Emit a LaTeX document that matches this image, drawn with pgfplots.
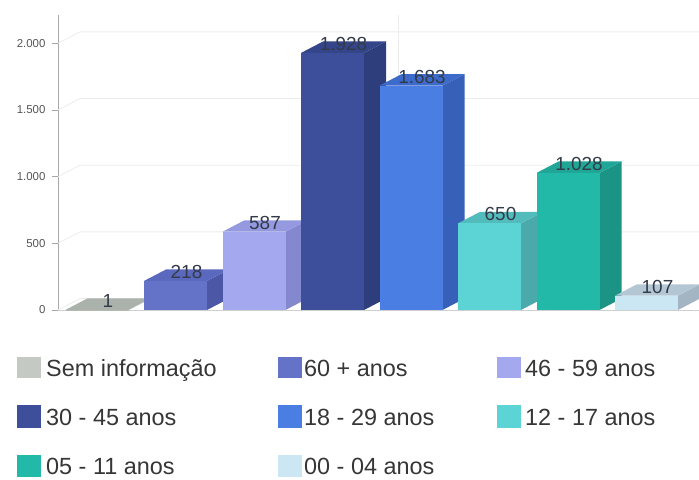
\documentclass[border=0pt]{standalone}
\usepackage{fontspec}
\setmainfont{Liberation Sans}
\usepackage{pgfplots}
\pgfplotsset{compat=1.18}

\definecolor{c1f}{HTML}{B3BAB3}\definecolor{c1t}{HTML}{ABB2AB}\definecolor{c1s}{HTML}{9AA29A}\definecolor{c1l}{HTML}{C4C9C4}
\definecolor{c2f}{HTML}{6472C8}\definecolor{c2t}{HTML}{5A68BD}\definecolor{c2s}{HTML}{4C58A5}
\definecolor{c3f}{HTML}{A4A9EF}\definecolor{c3t}{HTML}{9499E0}\definecolor{c3s}{HTML}{8489CF}
\definecolor{c4f}{HTML}{3D4F9B}\definecolor{c4t}{HTML}{34458A}\definecolor{c4s}{HTML}{2E3D7C}
\definecolor{c5f}{HTML}{4A7EE3}\definecolor{c5t}{HTML}{3D6BCC}\definecolor{c5s}{HTML}{3760B8}
\definecolor{c6f}{HTML}{5CD3D4}\definecolor{c6t}{HTML}{52BCBD}\definecolor{c6s}{HTML}{4AAAAB}
\definecolor{c7f}{HTML}{22B9A9}\definecolor{c7t}{HTML}{1FA696}\definecolor{c7s}{HTML}{1B9486}
\definecolor{c8f}{HTML}{CBE7F3}\definecolor{c8t}{HTML}{B3C6D4}\definecolor{c8s}{HTML}{A3B5C3}
\definecolor{gridc}{HTML}{ECECEC}
\definecolor{axisgray}{HTML}{A8A8A8}
\definecolor{floorgray}{HTML}{CFCFCF}
\definecolor{tickgray}{HTML}{555555}
\definecolor{labtext}{HTML}{333A48}
\definecolor{legtext}{HTML}{363636}

% half bar width, depth offsets (x in category units, y in value units)
\def\hw{0.40127}
\def\dx{0.28025}
\def\dy{86}

\newcommand{\tdbar}[5]{%
  \pgfmathsetmacro\xl{#1-\hw}%
  \pgfmathsetmacro\xr{#1+\hw}%
  \pgfmathsetmacro\xlb{#1-\hw+\dx}%
  \pgfmathsetmacro\xrb{#1+\hw+\dx}%
  \pgfmathsetmacro\vt{#2+\dy}%
  \edef\temp{%
    \noexpand\addplot[fill=#5, draw=none] coordinates {(\xr,0) (\xrb,\dy) (\xrb,\vt) (\xr,#2)} -- cycle;
    \noexpand\addplot[fill=#4, draw=none] coordinates {(\xl,#2) (\xr,#2) (\xrb,\vt) (\xlb,\vt)} -- cycle;
    \noexpand\addplot[fill=#3, draw=none] coordinates {(\xl,0) (\xr,0) (\xr,#2) (\xl,#2)} -- cycle;
  }\temp
}

\begin{document}
\begin{tikzpicture}
\useasboundingbox (0,0) rectangle (699bp,-480bp);
\begin{axis}[
  at={(58bp,-310bp)}, anchor=south west,
  x=78.5bp, y=0.13333bp,
  xmin=-0.49682, xmax=7.6688, ymin=0, ymax=2212.5,
  axis lines*=left,
  xtick=\empty,
  ytick={0,500,1000,1500,2000},
  /pgf/number format/1000 sep={.},
  /pgf/number format/assume math mode=true,
  y axis line style={draw=axisgray, line width=0.8bp},
  x axis line style={draw=floorgray, line width=0.8bp},
  tick align=outside,
  major tick length=6bp,
  ytick style={draw=axisgray, line width=0.6bp},
  yticklabel style={font=\fontsize{11.5}{13}\selectfont, text=tickgray, xshift=-3bp},
]
% back-wall gridlines
\draw[gridc, line width=0.8bp] (axis cs:-0.49682,0) -- (axis cs:-0.21657,86) -- (axis cs:7.6688,86);
\draw[gridc, line width=0.8bp] (axis cs:-0.49682,500) -- (axis cs:-0.21657,586) -- (axis cs:7.6688,586);
\draw[gridc, line width=0.8bp] (axis cs:-0.49682,1000) -- (axis cs:-0.21657,1086) -- (axis cs:7.6688,1086);
\draw[gridc, line width=0.8bp] (axis cs:-0.49682,1500) -- (axis cs:-0.21657,1586) -- (axis cs:7.6688,1586);
\draw[gridc, line width=0.8bp] (axis cs:-0.49682,2000) -- (axis cs:-0.21657,2086) -- (axis cs:7.6688,2086);
\draw[gridc, line width=0.8bp] (axis cs:3.8344,0) -- (axis cs:3.8344,2212.5);

\tdbar{0}{1}{c1f}{c1t}{c1s}
\tdbar{1}{218}{c2f}{c2t}{c2s}
\tdbar{2}{587}{c3f}{c3t}{c3s}
\tdbar{3}{1928}{c4f}{c4t}{c4s}
\tdbar{4}{1683}{c5f}{c5t}{c5s}
\tdbar{5}{650}{c6f}{c6t}{c6s}
\tdbar{6}{1028}{c7f}{c7t}{c7s}
\tdbar{7}{107}{c8f}{c8t}{c8s}

\addplot[draw=none, mark=none, nodes near coords, point meta=explicit symbolic,
  nodes near coords style={anchor=center, xshift=11bp, yshift=9bp, inner sep=0pt,
    font=\fontsize{19}{21}\selectfont, text=labtext}]
  coordinates {(0,1) [1] (1,218) [218] (2,587) [587] (3,1928) [1.928]
               (4,1683) [1.683] (5,650) [650] (6,1028) [1.028] (7,107) [107]};
\end{axis}

% legend
\def\legfont{\fontsize{23.5}{26}\selectfont}
\fill[c1l] (17bp,-357bp) rectangle (41bp,-378bp);
\node[anchor=base west, inner sep=0pt, font=\legfont, text=legtext] at (46bp,-376bp) {Sem informação};
\fill[c2f] (278bp,-357bp) rectangle (302bp,-378bp);
\node[anchor=base west, inner sep=0pt, font=\legfont, text=legtext] at (304bp,-376bp) {60 + anos};
\fill[c3f] (497bp,-357bp) rectangle (521bp,-378bp);
\node[anchor=base west, inner sep=0pt, font=\legfont, text=legtext] at (525bp,-376bp) {46 - 59 anos};

\fill[c4f] (17bp,-405bp) rectangle (41bp,-428bp);
\node[anchor=base west, inner sep=0pt, font=\legfont, text=legtext] at (46bp,-425bp) {30 - 45 anos};
\fill[c5f] (278bp,-405bp) rectangle (302bp,-428bp);
\node[anchor=base west, inner sep=0pt, font=\legfont, text=legtext] at (304bp,-425bp) {18 - 29 anos};
\fill[c6f] (497bp,-405bp) rectangle (521bp,-428bp);
\node[anchor=base west, inner sep=0pt, font=\legfont, text=legtext] at (525bp,-425bp) {12 - 17 anos};

\fill[c7f] (17bp,-455bp) rectangle (41bp,-477bp);
\node[anchor=base west, inner sep=0pt, font=\legfont, text=legtext] at (46bp,-474bp) {05 - 11 anos};
\fill[c8f] (278bp,-455bp) rectangle (302bp,-477bp);
\node[anchor=base west, inner sep=0pt, font=\legfont, text=legtext] at (304bp,-474bp) {00 - 04 anos};
\end{tikzpicture}
\end{document}
